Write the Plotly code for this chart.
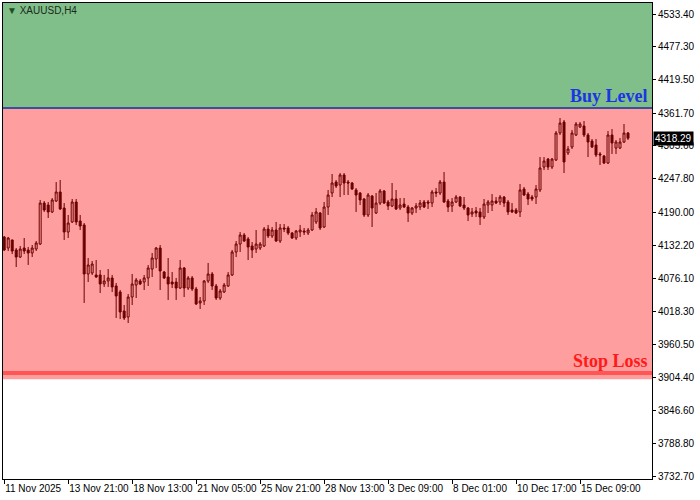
import plotly.graph_objects as go

# XAUUSD H4 bars, one per 4 hours (bar index on x)
opens = [
    4147.2, 4128.1, 4142.0, 4124.7, 4112.5, 4128.1, 4124.7, 4119.5, 4126.4, 4135.0,
    4206.0, 4202.6, 4190.5, 4209.5, 4225.1, 4197.4, 4155.8, 4173.2, 4207.8, 4174.9,
    4168.0, 4083.1, 4084.8, 4081.4, 4081.4, 4065.8, 4071.0, 4076.2, 4062.3, 4051.9,
    4019.0, 4008.6, 4043.2, 4064.0, 4071.0, 4069.2, 4076.2, 4091.7, 4109.1, 4128.1,
    4086.5, 4077.9, 4069.2, 4069.2, 4058.8, 4093.5, 4058.8, 4076.2, 4057.1, 4032.9,
    4036.3, 4071.0, 4083.1, 4062.3, 4041.5, 4051.9, 4062.3, 4081.4, 4121.2, 4135.0,
    4150.6, 4143.7, 4131.6, 4126.4, 4128.1, 4131.6, 4161.0, 4148.9, 4159.3, 4140.2,
    4162.8, 4162.8, 4154.1, 4145.4, 4155.8, 4157.6, 4154.1, 4159.3, 4173.2, 4188.7,
    4164.5, 4199.1, 4223.4, 4242.4, 4237.2, 4254.6, 4242.4, 4240.7, 4228.6, 4223.4,
    4213.0, 4185.3, 4218.2, 4188.7, 4206.0, 4226.9, 4207.8, 4200.9, 4213.0, 4197.4,
    4204.3, 4199.1, 4188.7, 4197.4, 4199.1, 4207.8, 4207.8, 4206.0, 4225.1, 4223.4,
    4242.4, 4209.5, 4200.9, 4207.8, 4216.4, 4202.6, 4197.4, 4187.0, 4192.2, 4190.5,
    4181.8, 4202.6, 4202.6, 4209.5, 4207.8, 4216.4, 4207.8, 4193.9, 4193.9, 4190.5,
    4230.3, 4221.6, 4216.4, 4216.4, 4228.6, 4268.4, 4282.2, 4268.4, 4280.5, 4327.3,
    4346.3, 4292.7, 4303.0, 4323.8, 4337.7, 4339.4, 4323.8, 4313.4, 4306.5, 4291.0,
    4287.5, 4275.3, 4323.8, 4301.3, 4301.3, 4311.7, 4327.3,
]
highs = [
    4148.9, 4147.2, 4142.5, 4128.1, 4131.6, 4145.4, 4129.9, 4133.3, 4140.2, 4211.3,
    4209.5, 4207.8, 4214.7, 4242.4, 4245.9, 4206.0, 4185.3, 4213.0, 4213.0, 4185.3,
    4171.4, 4110.8, 4105.6, 4107.3, 4090.0, 4081.4, 4091.7, 4081.4, 4067.5, 4055.4,
    4029.4, 4048.4, 4083.1, 4076.2, 4074.4, 4081.4, 4098.7, 4119.5, 4129.9, 4133.3,
    4088.3, 4110.8, 4086.5, 4076.2, 4107.3, 4095.2, 4079.6, 4079.6, 4060.6, 4043.2,
    4072.7, 4102.2, 4086.5, 4065.8, 4057.1, 4067.5, 4086.5, 4124.7, 4140.2, 4155.8,
    4154.1, 4147.2, 4138.5, 4159.3, 4138.5, 4164.5, 4168.0, 4164.5, 4173.2, 4169.7,
    4169.7, 4166.2, 4155.8, 4159.3, 4168.0, 4162.8, 4162.8, 4190.5, 4197.4, 4190.5,
    4207.8, 4228.6, 4256.3, 4245.9, 4258.0, 4258.0, 4245.9, 4242.4, 4232.0, 4225.1,
    4214.7, 4223.4, 4219.9, 4223.4, 4230.3, 4228.6, 4211.3, 4240.7, 4228.6, 4214.7,
    4214.7, 4202.6, 4199.1, 4206.0, 4211.3, 4211.3, 4211.3, 4228.6, 4232.0, 4245.9,
    4259.7, 4213.0, 4214.7, 4219.9, 4218.2, 4216.4, 4199.1, 4197.4, 4199.1, 4197.4,
    4213.0, 4211.3, 4221.6, 4216.4, 4219.9, 4218.2, 4211.3, 4206.0, 4197.4, 4239.0,
    4233.8, 4225.1, 4219.9, 4237.2, 4285.7, 4285.7, 4284.0, 4284.0, 4330.8, 4353.3,
    4349.8, 4304.8, 4332.5, 4346.3, 4346.3, 4348.1, 4327.3, 4316.9, 4316.9, 4294.4,
    4289.2, 4330.8, 4334.2, 4315.2, 4318.6, 4342.9, 4329.0,
]
lows = [
    4122.9, 4122.9, 4117.7, 4095.2, 4110.8, 4117.7, 4098.7, 4112.5, 4122.9, 4133.3,
    4190.5, 4180.1, 4188.7, 4207.8, 4193.9, 4142.0, 4145.4, 4171.4, 4168.0, 4159.3,
    4032.9, 4069.2, 4081.4, 4076.2, 4050.2, 4060.6, 4060.6, 4051.9, 4006.9, 4005.1,
    4003.4, 3998.2, 4029.4, 4041.5, 4064.0, 4055.4, 4062.3, 4077.9, 4093.5, 4055.4,
    4074.4, 4038.1, 4058.8, 4038.1, 4057.1, 4043.2, 4055.4, 4053.7, 4029.4, 4022.5,
    4029.4, 4067.5, 4055.4, 4038.1, 4038.1, 4050.2, 4060.6, 4079.6, 4112.5, 4121.2,
    4138.5, 4107.3, 4110.8, 4119.5, 4124.7, 4129.9, 4145.4, 4145.4, 4138.5, 4136.8,
    4155.8, 4150.6, 4143.7, 4142.0, 4147.2, 4150.6, 4150.6, 4157.6, 4169.7, 4159.3,
    4162.8, 4185.3, 4216.4, 4232.0, 4216.4, 4219.9, 4219.9, 4228.6, 4190.5, 4202.6,
    4181.8, 4181.8, 4164.5, 4187.0, 4202.6, 4204.3, 4193.9, 4199.1, 4193.9, 4193.9,
    4197.4, 4173.2, 4185.3, 4188.7, 4193.9, 4197.4, 4195.7, 4199.1, 4216.4, 4219.9,
    4206.0, 4190.5, 4190.5, 4206.0, 4199.1, 4193.9, 4174.9, 4181.8, 4181.8, 4168.0,
    4178.3, 4188.7, 4192.2, 4204.3, 4202.6, 4199.1, 4185.3, 4188.7, 4187.0, 4181.8,
    4218.2, 4202.6, 4209.5, 4204.3, 4225.1, 4263.2, 4263.2, 4264.9, 4278.8, 4323.8,
    4258.0, 4289.2, 4299.6, 4322.1, 4336.0, 4320.4, 4285.7, 4301.3, 4285.7, 4271.9,
    4273.6, 4273.6, 4291.0, 4291.0, 4299.6, 4310.0, 4315.2,
]
closes = [
    4124.7, 4145.4, 4122.9, 4112.5, 4126.4, 4122.9, 4119.5, 4128.1, 4136.8, 4206.0,
    4193.9, 4190.5, 4211.3, 4225.1, 4195.7, 4155.8, 4171.4, 4207.8, 4173.2, 4166.2,
    4083.1, 4098.7, 4100.4, 4077.9, 4065.8, 4071.0, 4076.2, 4060.6, 4045.0, 4017.3,
    4006.9, 4043.2, 4065.8, 4072.7, 4065.8, 4076.2, 4093.5, 4110.8, 4128.1, 4088.3,
    4076.2, 4065.8, 4065.8, 4058.8, 4093.5, 4058.8, 4076.2, 4057.1, 4031.1, 4036.3,
    4071.0, 4083.1, 4062.3, 4041.5, 4053.6, 4064.0, 4081.4, 4121.2, 4135.0, 4150.6,
    4140.2, 4129.9, 4124.7, 4135.0, 4135.0, 4161.0, 4148.9, 4159.3, 4140.2, 4162.8,
    4161.0, 4154.1, 4145.4, 4157.6, 4159.3, 4155.8, 4159.3, 4185.3, 4190.5, 4162.8,
    4199.1, 4219.9, 4240.7, 4235.5, 4254.6, 4240.7, 4240.7, 4230.3, 4219.9, 4211.3,
    4185.3, 4219.9, 4197.4, 4206.0, 4226.9, 4206.0, 4200.9, 4213.0, 4195.7, 4202.6,
    4199.1, 4188.7, 4197.4, 4200.9, 4206.0, 4199.1, 4206.0, 4225.1, 4223.4, 4242.4,
    4207.8, 4199.1, 4207.8, 4216.4, 4200.9, 4197.4, 4185.3, 4190.5, 4188.7, 4181.8,
    4204.3, 4207.8, 4209.5, 4206.0, 4216.4, 4206.0, 4190.5, 4190.5, 4188.7, 4228.6,
    4219.9, 4213.0, 4213.0, 4230.3, 4266.7, 4278.8, 4268.4, 4282.2, 4327.3, 4344.6,
    4277.1, 4299.6, 4327.3, 4342.9, 4342.9, 4323.8, 4311.7, 4303.0, 4289.2, 4289.2,
    4275.3, 4323.8, 4310.0, 4311.7, 4311.7, 4327.3, 4318.29,
]

date_ticks = [0, 16, 32, 48, 64, 80, 96, 112, 128, 144]
date_labels = [
    "11 Nov 2025", "13 Nov 21:00", "18 Nov 13:00", "21 Nov 05:00", "25 Nov 21:00",
    "28 Nov 13:00", "3 Dec 09:00", "8 Dec 01:00", "10 Dec 17:00", "15 Dec 09:00",
]
price_ticks = [
    3732.7, 3788.8, 3846.6, 3904.4, 3960.5, 4018.3, 4076.1, 4132.2,
    4190.0, 4247.8, 4305.6, 4361.7, 4419.5, 4477.3, 4533.4,
]

buy_level = 4370.6
stop_loss = 3911.6
zone_bottom = 3900.7
last_price = closes[-1]

candle_color = "#6b0000"
font = "Liberation Sans"

fig = go.Figure()
fig.add_trace(go.Candlestick(
    x=list(range(len(closes))),
    open=opens, high=highs, low=lows, close=closes,
    increasing=dict(line=dict(color=candle_color, width=1), fillcolor="rgba(0,0,0,0)"),
    decreasing=dict(line=dict(color=candle_color, width=1), fillcolor=candle_color),
    whiskerwidth=0,
    showlegend=False,
    hoverinfo="skip",
))

# zones and levels
fig.add_shape(type="rect", xref="paper", yref="y", x0=0, x1=1, y0=buy_level, y1=4600,
              fillcolor="#80bf89", line_width=0, layer="below")
fig.add_shape(type="rect", xref="paper", yref="y", x0=0, x1=1, y0=zone_bottom, y1=buy_level,
              fillcolor="#ff9e9e", line_width=0, layer="below")
fig.add_shape(type="line", xref="paper", yref="y", x0=0, x1=1, y0=buy_level, y1=buy_level,
              line=dict(color="#3a4fa0", width=2), layer="below")
fig.add_shape(type="line", xref="paper", yref="y", x0=0, x1=1, y0=stop_loss, y1=stop_loss,
              line=dict(color="#ff5555", width=4), layer="below")

fig.add_annotation(xref="paper", yref="y", x=0.997, y=buy_level, yshift=0,
                   xanchor="right", yanchor="bottom", showarrow=False,
                   text="<b>Buy Level</b>",
                   font=dict(family="Liberation Serif", size=18, color="#1a34e6"))
fig.add_annotation(xref="paper", yref="y", x=0.997, y=3933.0,
                   xanchor="right", yanchor="middle", showarrow=False,
                   text="<b>Stop Loss</b>",
                   font=dict(family="Liberation Serif", size=18, color="#ff1a1a"))
fig.add_annotation(xref="paper", yref="paper", x=0.003, y=0.985,
                   xanchor="left", yanchor="middle", showarrow=False,
                   text="<span style='color:#1f4f1f'>▼</span> XAUUSD,H4",
                   font=dict(family=font, size=10, color="#1a2a1a"))
fig.add_annotation(xref="paper", yref="y", x=1, y=last_price, xshift=1,
                   xanchor="left", yanchor="middle", showarrow=False,
                   text=f"{last_price:.2f}", bgcolor="black", borderpad=1,
                   font=dict(family=font, size=10, color="white"))

fig.update_layout(
    width=700, height=500,
    margin=dict(l=3, r=48, t=3, b=21),
    paper_bgcolor="white", plot_bgcolor="white",
    font=dict(family=font, size=10, color="black"),
    xaxis=dict(
        range=[-0.3, 162], rangeslider=dict(visible=False),
        tickvals=date_ticks, ticktext=date_labels, tickangle=0,
        ticks="outside", ticklen=4, tickcolor="black",
        ticklabelposition="outside right",
        showgrid=False, zeroline=False, automargin=False,
        showline=True, linecolor="black", linewidth=1, mirror=True,
    ),
    yaxis=dict(
        side="right", range=[3728.0, 4552.5],
        tickvals=price_ticks, tickformat=".2f",
        ticks="outside", ticklen=3, tickcolor="black",
        showgrid=False, zeroline=False, automargin=False,
        showline=True, linecolor="black", linewidth=1, mirror=True,
    ),
)

# page body has a default 8px margin; drop it so the figure fills the window
fig.write_html("out.html", config={"displayModeBar": False},
               post_script="document.body.style.margin = '0';")
